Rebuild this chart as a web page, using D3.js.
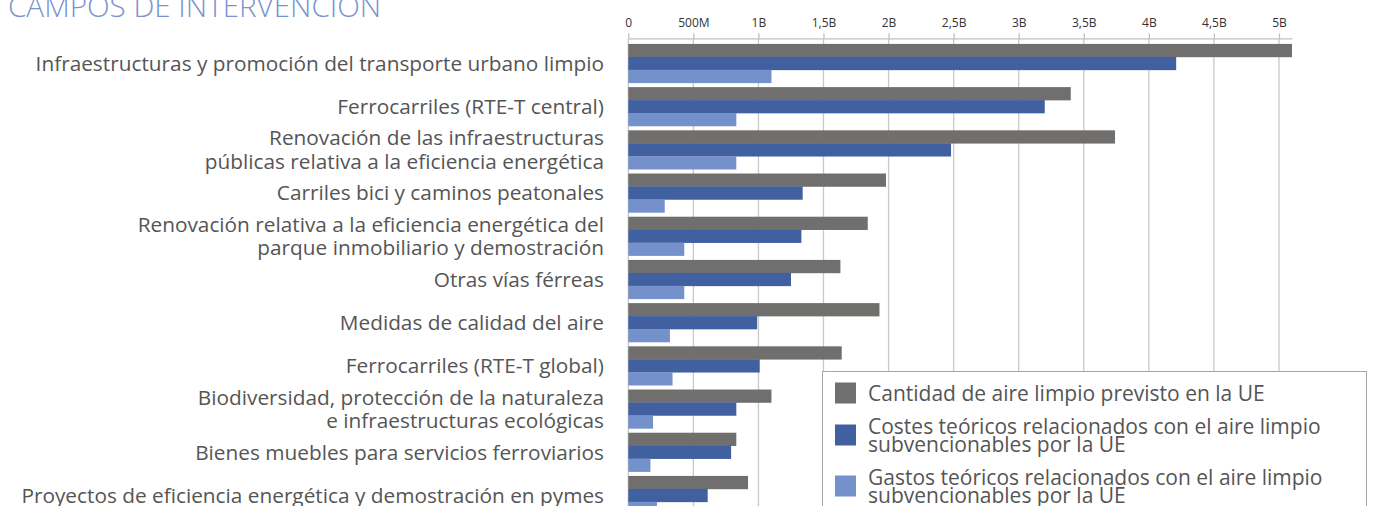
<!DOCTYPE html>
<html>
<head>
<meta charset="utf-8">
<script src="https://cdn.jsdelivr.net/npm/d3@7"></script>
<style>
  html, body { margin: 0; padding: 0; background: #fff; overflow: hidden; }
  svg { display: block; font-family: 'Open Sans', 'Noto Sans', sans-serif; }
</style>
</head>
<body>
<svg id="chart" width="1373" height="506"></svg>
<script>
// category labels (one entry per line)
const categories = [
  ['Infraestructuras y promoción del transporte urbano limpio'],
  ['Ferrocarriles (RTE-T central)'],
  ['Renovación de las infraestructuras', 'públicas relativa a la eficiencia energética'],
  ['Carriles bici y caminos peatonales'],
  ['Renovación relativa a la eficiencia energética del', 'parque inmobiliario y demostración'],
  ['Otras vías férreas'],
  ['Medidas de calidad del aire'],
  ['Ferrocarriles (RTE-T global)'],
  ['Biodiversidad, protección de la naturaleza', 'e infraestructuras ecológicas'],
  ['Bienes muebles para servicios ferroviarios'],
  ['Proyectos de eficiencia energética y demostración en pymes']
];

// values in billions of euros
const previsto = [5.10, 3.40, 3.74, 1.98, 1.84, 1.63, 1.93, 1.64, 1.10, 0.83, 0.92];
const costes   = [4.21, 3.20, 2.48, 1.34, 1.33, 1.25, 0.99, 1.01, 0.83, 0.79, 0.61];
const gastos   = [1.10, 0.83, 0.83, 0.28, 0.43, 0.43, 0.32, 0.34, 0.19, 0.17, 0.22];

const seriesNames = [
  ['Cantidad de aire limpio previsto en la UE'],
  ['Costes teóricos relacionados con el aire limpio', 'subvencionables por la UE'],
  ['Gastos teóricos relacionados con el aire limpio', 'subvencionables por la UE']
];
const seriesColors = ['#706f6d', '#4160a0', '#7591cc'];

const tickValues = [0, 0.5, 1, 1.5, 2, 2.5, 3, 3.5, 4, 4.5, 5];
const tickLabels = ['0', '500M', '1B', '1,5B', '2B', '2,5B', '3B', '3,5B', '4B', '4,5B', '5B'];

const svg = d3.select('#chart');
const margin = { top: 38.3, left: 628.3, right: 1292 };
const textColor = '#555';

const x = d3.scaleLinear().domain([0, 5.1]).range([margin.left, margin.right]);
const y = d3.scaleBand()
  .domain(d3.range(categories.length))
  .range([margin.top, margin.top + 43.2 * 11.16])
  .paddingInner(0.1)
  .paddingOuter(0.13);
const ySub = d3.scaleBand().domain([0, 1, 2]).range([0, y.bandwidth()]);

// title (clipped at the top of the frame)
svg.append('text')
  .attr('x', 8)
  .attr('y', 16.7)
  .attr('fill', '#7a93cf')
  .attr('font-size', 29.6)
  .attr('font-weight', 300)
  .text('CAMPOS DE INTERVENCIÓN');

// vertical gridlines
svg.append('g')
  .selectAll('line')
  .data(tickValues)
  .enter()
  .append('line')
  .attr('x1', d => x(d))
  .attr('x2', d => x(d))
  .attr('y1', margin.top)
  .attr('y2', 520)
  .attr('stroke', '#c8c8c8')
  .attr('stroke-width', 1.3);

// top axis
const axis = svg.append('g')
  .attr('transform', 'translate(0,' + margin.top + ')')
  .call(d3.axisTop(x).tickValues(tickValues).tickFormat((d, i) => tickLabels[i]).tickSize(5).tickSizeOuter(0));
axis.select('.domain').attr('stroke', '#c0c0c0').attr('stroke-width', 1.3);
axis.selectAll('.tick line').attr('stroke', '#c0c0c0').attr('stroke-width', 1.3);
axis.selectAll('.tick text')
  .attr('fill', '#333')
  .attr('font-size', 12)
  .attr('font-family', "'Open Sans', sans-serif")
  .attr('y', -11.3)
  .attr('dy', 0);

// bars
const series = [previsto, costes, gastos];
const groups = svg.append('g')
  .selectAll('g')
  .data(categories.map((c, i) => i))
  .enter()
  .append('g')
  .attr('transform', i => 'translate(0,' + y(i) + ')');

groups.selectAll('rect')
  .data(i => series.map((s, k) => ({ k: k, v: s[i] })))
  .enter()
  .append('rect')
  .attr('x', x(0))
  .attr('y', d => ySub(d.k))
  .attr('width', d => x(d.v) - x(0))
  .attr('height', ySub.bandwidth() + 0.3)
  .attr('fill', d => seriesColors[d.k]);

// category labels
const lineGap = 23.5;
svg.append('g')
  .selectAll('text')
  .data(categories)
  .enter()
  .append('text')
  .attr('text-anchor', 'end')
  .attr('font-size', 20.8)
  .attr('fill', textColor)
  .each(function (lines, i) {
    const cy = y(i) + y.bandwidth() / 2;
    const t = d3.select(this);
    lines.forEach((l, j) => {
      t.append('tspan')
        .attr('x', 604)
        .attr('y', cy + (j - (lines.length - 1) / 2) * lineGap)
        .attr('dy', '0.36em')
        .text(l);
    });
  });

// legend
const legend = svg.append('g');
legend.append('rect')
  .attr('x', 822.5)
  .attr('y', 371.5)
  .attr('width', 544)
  .attr('height', 160)
  .attr('fill', '#fff')
  .attr('stroke', '#a6a6a6')
  .attr('stroke-width', 1);

const legLine = 18;
let cursor = 381;
seriesNames.forEach((lines, k) => {
  const h = 24 + (lines.length - 1) * legLine;
  const cy = cursor + h / 2;
  legend.append('rect')
    .attr('x', 835)
    .attr('y', cy - 10.5)
    .attr('width', 21)
    .attr('height', 21)
    .attr('fill', seriesColors[k]);
  const t = legend.append('text')
    .attr('font-size', 21)
    .attr('fill', textColor);
  lines.forEach((l, j) => {
    t.append('tspan')
      .attr('x', 868)
      .attr('y', cy + (j - (lines.length - 1) / 2) * legLine)
      .attr('dy', '0.36em')
      .text(l);
  });
  cursor += h + 9;
});
</script>
</body>
</html>
